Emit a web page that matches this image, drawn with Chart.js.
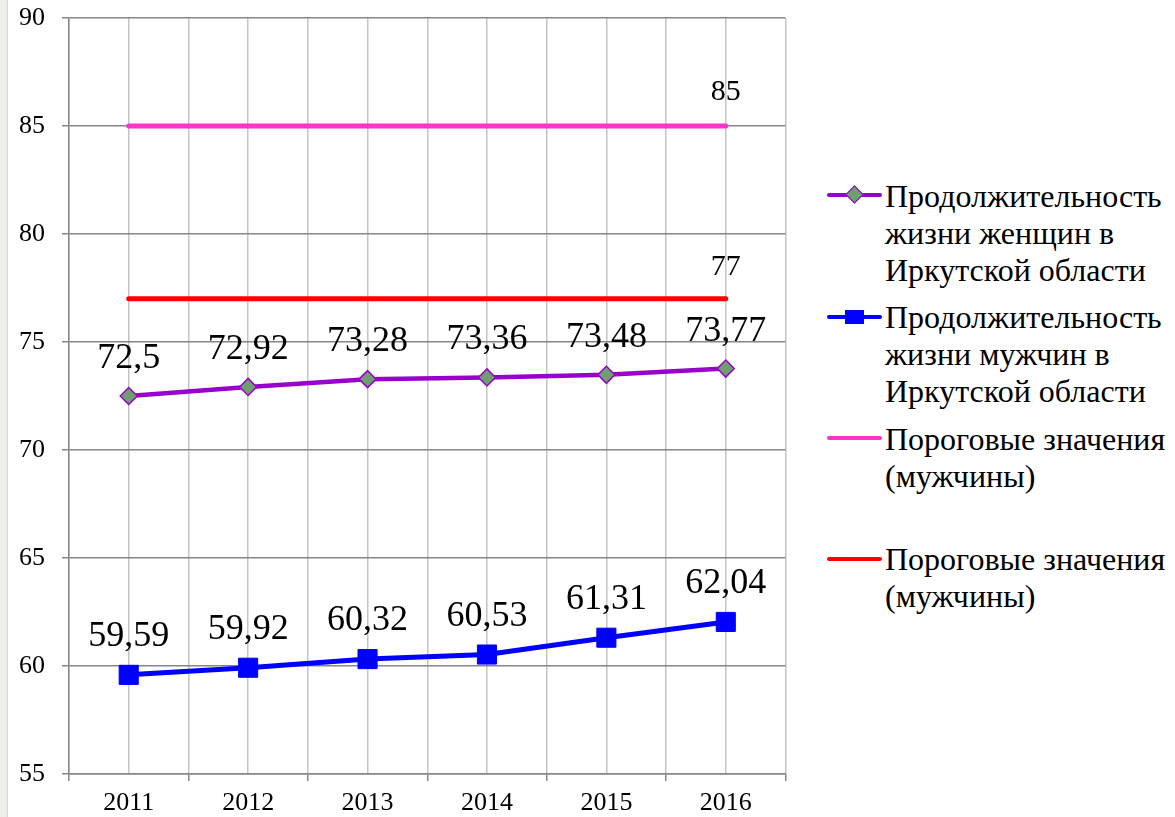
<!DOCTYPE html>
<html>
<head>
<meta charset="utf-8">
<script src="https://cdn.jsdelivr.net/npm/chart.js@4.4.1/dist/chart.umd.min.js"></script>
<style>
  body { margin: 0; background: #fff; width: 1175px; height: 817px; overflow: hidden; position: relative; }
  #strip { position: absolute; left: 0; top: 0; width: 7px; height: 817px; background: #efefe7; border-right: 1px solid #d8d8d0; }
  #chartBox { position: absolute; left: 0; top: 0; width: 800px; height: 817px; }
  .item { position: absolute; left: 885px; font-family: 'Liberation Serif', serif; font-size: 32px; line-height: 37px; color: #000; white-space: nowrap; }
  .sample { position: absolute; left: 827px; width: 55px; height: 4px; border-radius: 2px; }
  .mark { position: absolute; }
</style>
</head>
<body>
<div id="strip"></div>
<div id="chartBox"><canvas id="lifeChart" width="800" height="817"></canvas></div>
<div id="legend"></div>
<script>
// годы и значения (чтение с картинки)
const years = ['2011', '2012', '2013', '2014', '2015', '2016'];
const womenLife = [72.5, 72.92, 73.28, 73.36, 73.48, 73.77];
const menLife = [59.59, 59.92, 60.32, 60.53, 61.31, 62.04];
const thresholdHigh = [85, 85, 85, 85, 85, 85];
const thresholdLow = [77, 77, 77, 77, 77, 77];
const yTicks = { min: 55, max: 90, step: 5 };

const seriesNames = [
    ['Продолжительность', 'жизни женщин в', 'Иркутской области'],
    ['Продолжительность', 'жизни мужчин в', 'Иркутской области'],
    ['Пороговые значения', '(мужчины)'],
    ['Пороговые значения', '(мужчины)']
];

const FONT = "'Liberation Serif', serif";

// подписи значений над точками
const valueLabels = {
    id: 'valueLabels',
    afterDatasetsDraw(chart) {
        const ctx = chart.ctx;
        chart.data.datasets.forEach((ds, i) => {
            const meta = chart.getDatasetMeta(i);
            const opt = ds.valueLabel;
            if (!opt) return;
            ctx.save();
            ctx.font = opt.size + 'px ' + FONT;
            ctx.fillStyle = '#000';
            ctx.textAlign = 'center';
            ctx.textBaseline = 'alphabetic';
            meta.data.forEach((pt, j) => {
                if (opt.lastOnly && j !== meta.data.length - 1) return;
                const txt = String(ds.data[j]).replace('.', ',');
                ctx.fillText(txt, pt.x, pt.y - opt.lift);
            });
            ctx.restore();
        });
    }
};

// фиксированные размеры осей, без лишних отступов
const fixBox = (w, h) => s => {
    if (w !== null) s.width = w;
    if (h !== null) s.height = h;
    s.paddingTop = 0; s.paddingBottom = 0; s.paddingLeft = 0; s.paddingRight = 0;
};

const chart = new Chart(document.getElementById('lifeChart'), {
    type: 'line',
    data: {
        labels: years,
        datasets: [
            {
                label: seriesNames[0].join(' '),
                data: womenLife,
                borderColor: '#9900cc',
                borderWidth: 4.5,
                pointStyle: 'rectRot',
                pointRadius: 8.5,
                pointBackgroundColor: '#6f9f6f',
                pointBorderColor: '#9900cc',
                pointBorderWidth: 1.5,
                tension: 0,
                valueLabel: { size: 36, lift: 28 }
            },
            {
                label: seriesNames[1].join(' '),
                data: menLife,
                borderColor: '#0000ff',
                borderWidth: 5,
                pointStyle: 'rect',
                pointRadius: 13.5,
                pointBackgroundColor: '#0000ff',
                pointBorderColor: '#0000ff',
                pointBorderWidth: 1,
                tension: 0,
                valueLabel: { size: 36, lift: 29 }
            },
            {
                label: seriesNames[2].join(' '),
                data: thresholdHigh,
                borderColor: '#ff33cc',
                borderWidth: 5,
                borderCapStyle: 'round',
                pointRadius: 0,
                valueLabel: { size: 30, lift: 26, lastOnly: true }
            },
            {
                label: seriesNames[3].join(' '),
                data: thresholdLow,
                borderColor: '#ff0000',
                borderWidth: 5,
                borderCapStyle: 'round',
                pointRadius: 0,
                valueLabel: { size: 30, lift: 24, lastOnly: true }
            }
        ]
    },
    options: {
        responsive: false,
        animation: false,
        devicePixelRatio: 1,
        layout: { padding: { top: 18, right: 12, bottom: 0, left: 0 } },
        plugins: { legend: { display: false }, tooltip: { enabled: false } },
        scales: {
            x: {
                offset: true,
                grid: { offset: true, color: '#c4c4c4', lineWidth: 1.5, tickLength: 7, tickColor: '#868686' },
                border: { color: '#868686', width: 1.5 },
                ticks: { color: '#000', font: { family: FONT, size: 26 }, padding: 7, maxRotation: 0 },
                afterFit: fixBox(null, 43)
            },
            xMid: {
                type: 'category',
                position: 'top',
                offset: true,
                grid: { offset: false, color: '#c4c4c4', lineWidth: 1.5, drawTicks: false },
                border: { display: false },
                ticks: { display: false },
                afterFit: fixBox(null, 0)
            },
            y: {
                min: yTicks.min,
                max: yTicks.max,
                ticks: { stepSize: yTicks.step, color: '#000', font: { family: FONT, size: 26 }, padding: 17 },
                grid: { color: '#868686', lineWidth: 1.5, tickLength: 7 },
                border: { color: '#868686', width: 1.5 },
                afterFit: fixBox(69, null)
            }
        }
    },
    plugins: [valueLabels]
});

// легенда справа
const legendTops = [178, 299, 421, 541];
const sampleY = [195, 317, 438, 559];
const sampleColors = ['#9900cc', '#0000ff', '#ff33cc', '#ff0000'];
const legend = document.getElementById('legend');
seriesNames.forEach((lines, i) => {
    const s = document.createElement('div');
    s.className = 'sample';
    s.style.top = (sampleY[i] - 2) + 'px';
    s.style.background = sampleColors[i];
    legend.appendChild(s);
    if (i === 0) {
        const m = document.createElement('div');
        m.className = 'mark';
        m.style.cssText = 'left:848px;top:' + (sampleY[i] - 7) + 'px;width:11px;height:11px;background:#6f9f6f;border:1.5px solid #9900cc;transform:rotate(45deg);';
        legend.appendChild(m);
    }
    if (i === 1) {
        const m = document.createElement('div');
        m.className = 'mark';
        m.style.cssText = 'left:845px;top:' + (sampleY[i] - 7) + 'px;width:19px;height:14px;background:#0000ff;';
        legend.appendChild(m);
    }
    const t = document.createElement('div');
    t.className = 'item';
    t.style.top = legendTops[i] + 'px';
    t.innerHTML = lines.join('<br>');
    legend.appendChild(t);
});
</script>
</body>
</html>
